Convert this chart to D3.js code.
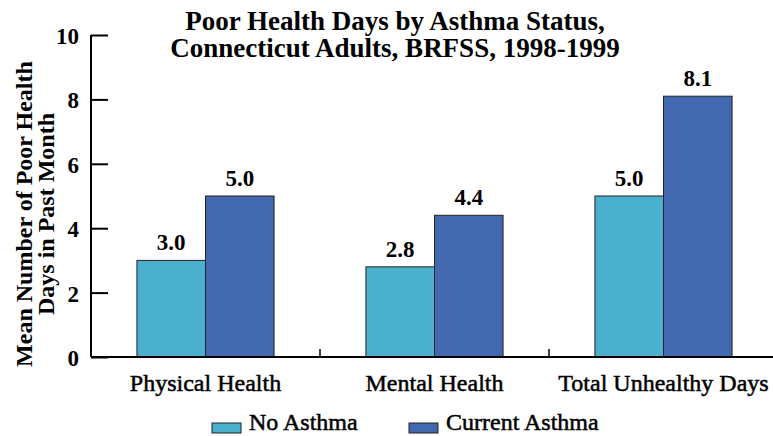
<!DOCTYPE html>
<html>
<head>
<meta charset="utf-8">
<script src="https://cdn.jsdelivr.net/npm/d3@7"></script>
<style>
  html, body { margin: 0; padding: 0; background: #fff; }
  svg text { font-family: "Liberation Serif", "Times New Roman", serif; fill: #000; }
</style>
</head>
<body>
<svg id="chart" width="773" height="436"></svg>
<script>
// Mean poor-health days in the past month, by asthma status
const categories = ["Physical Health", "Mental Health", "Total Unhealthy Days"];
const seriesNames = ["No Asthma", "Current Asthma"];
const noAsthma = [3.0, 2.8, 5.0];
const currentAsthma = [5.0, 4.4, 8.1];
const yTicks = [0, 2, 4, 6, 8, 10];
const titleLines = ["Poor Health Days by Asthma Status,", "Connecticut Adults, BRFSS, 1998-1999"];
const yTitleLines = ["Mean Number of Poor Health", "Days in Past Month"];
const colors = ["#4bafce", "#4269b0"];

const svg = d3.select("#chart");

const x0 = d3.scaleBand().domain(categories).range([91, 778]).padding(0);
const x1 = d3.scaleBand().domain(seriesNames).range([0, x0.bandwidth()]).paddingInner(0).paddingOuter(0.67);
const y = d3.scaleLinear().domain([0, 10]).range([357, 35]);

const rows = categories.map((c, i) => ({ cat: c, values: [noAsthma[i], currentAsthma[i]] }));

// bars
const groups = svg.append("g").selectAll("g").data(rows).join("g")
  .attr("transform", d => `translate(${x0(d.cat)},0)`);

groups.selectAll("rect").data(d => d.values.map((v, k) => ({ k, v })))
  .join("rect")
  .attr("x", d => x1(seriesNames[d.k]))
  .attr("y", d => y(d.v))
  .attr("width", x1.bandwidth())
  .attr("height", d => y(0) - y(d.v))
  .attr("fill", d => colors[d.k])
  .attr("stroke", "#222")
  .attr("stroke-width", 1);

groups.selectAll("text.val").data(d => d.values.map((v, k) => ({ k, v })))
  .join("text")
  .attr("class", "val")
  .attr("x", d => x1(seriesNames[d.k]) + x1.bandwidth() / 2)
  .attr("y", d => y(d.v) - 10)
  .attr("text-anchor", "middle")
  .attr("font-size", 23)
  .attr("font-weight", "bold")
  .text(d => d.v.toFixed(1));

// y axis with inward ticks
const yAxis = d3.axisRight(y).tickValues(yTicks).tickSize(17).tickFormat("");
const gy = svg.append("g").attr("transform", "translate(91,0)").call(yAxis);
gy.select(".domain").remove();
gy.selectAll(".tick line").attr("stroke", "#000").attr("stroke-width", 2);
svg.append("line").attr("x1", 91).attr("x2", 91).attr("y1", y(10)).attr("y2", y(0))
  .attr("stroke", "#000").attr("stroke-width", 2);

svg.append("g").selectAll("text").data(yTicks).join("text")
  .attr("x", 79).attr("y", d => y(d) + 9)
  .attr("text-anchor", "end")
  .attr("font-size", 23)
  .attr("font-weight", "bold")
  .text(d => d);

// x axis: baseline and separators between categories
svg.append("line").attr("x1", 91).attr("x2", 773).attr("y1", y(0)).attr("y2", y(0))
  .attr("stroke", "#000").attr("stroke-width", 2);
svg.append("g").selectAll("line").data(categories.slice(1)).join("line")
  .attr("x1", d => x0(d)).attr("x2", d => x0(d))
  .attr("y1", y(0)).attr("y2", y(0) - 8)
  .attr("stroke", "#000").attr("stroke-width", 1.5);

svg.append("g").selectAll("text").data(categories).join("text")
  .attr("x", d => x0(d) + x0.bandwidth() / 2)
  .attr("y", 391)
  .attr("text-anchor", "middle")
  .attr("font-size", 24)
  .attr("stroke", "#000").attr("stroke-width", 0.5)
  .text(d => d);

// two-line title
svg.append("text")
  .attr("x", 395).attr("y", 30)
  .attr("text-anchor", "middle")
  .attr("font-size", 27)
  .attr("font-weight", "bold")
  .selectAll("tspan").data(titleLines).join("tspan")
  .attr("x", 395).attr("dy", (d, i) => i === 0 ? 0 : 27)
  .text(d => d);

// y axis title
svg.append("g").selectAll("text").data(yTitleLines).join("text")
  .attr("transform", (d, i) => `translate(${32 + i * 22},214) rotate(-90)`)
  .attr("text-anchor", "middle")
  .attr("font-size", 24)
  .attr("font-weight", "bold")
  .text(d => d);

// legend
const legendX = [212, 409];
const legend = svg.append("g").selectAll("g").data(seriesNames).join("g")
  .attr("transform", (d, i) => `translate(${legendX[i]},0)`);
legend.append("rect").attr("x", 0).attr("y", 423).attr("width", 29).attr("height", 10)
  .attr("fill", (d, i) => colors[i]).attr("stroke", "#222").attr("stroke-width", 1);
legend.append("text").attr("x", 37).attr("y", 430).attr("font-size", 24)
  .attr("stroke", "#000").attr("stroke-width", 0.5)
  .text(d => d);
</script>
</body>
</html>
